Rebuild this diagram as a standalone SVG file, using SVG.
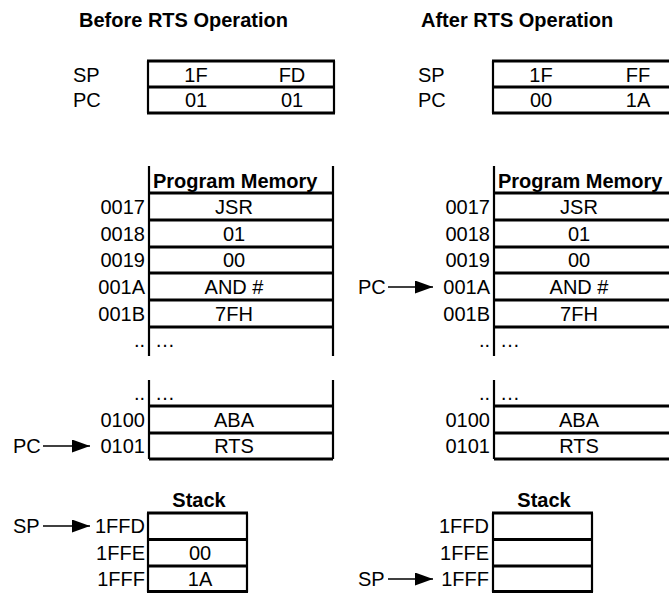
<svg xmlns="http://www.w3.org/2000/svg" width="669" height="593" viewBox="0 0 669 593">
  <style>
    text { font-family: "Liberation Sans", Arial, sans-serif; font-size: 20px; fill: #000; }
    .title { font-weight: bold; }
    .hdr { font-weight: bold; }
    .mid { text-anchor: middle; }
    .end { text-anchor: end; }
    .h { stroke: #000; stroke-width: 3; fill: none; }
    .v { stroke: #000; stroke-width: 2.2; fill: none; }
    .arrow { stroke: #000; stroke-width: 1.5; fill: none; }
  </style>
  <defs>
    <marker id="head" viewBox="0 0 18 13" refX="18" refY="6.5" markerWidth="18" markerHeight="13" markerUnits="userSpaceOnUse" orient="auto">
      <path d="M0,0 L18,6.5 L0,13 Z" fill="#000"/>
    </marker>
  </defs>

  <rect width="669" height="593" fill="#fff"/>

  <!-- Before RTS -->
  <g id="before">
    <text class="title" x="79" y="27">Before RTS Operation</text>

    <g id="before-registers">
      <text x="73" y="82">SP</text>
      <text x="73" y="107">PC</text>
      <line class="h" x1="147" y1="61" x2="335" y2="61"/>
      <line class="h" x1="147" y1="87" x2="335" y2="87"/>
      <line class="h" x1="147" y1="113" x2="335" y2="113"/>
      <line class="v" x1="148" y1="61" x2="148" y2="113"/>
      <line class="v" x1="334" y1="61" x2="334" y2="113"/>
      <text class="mid" x="196" y="82">1F</text>
      <text class="mid" x="292" y="82">FD</text>
      <text class="mid" x="196" y="107">01</text>
      <text class="mid" x="292" y="107">01</text>
    </g>

    <g id="before-memory">
      <line class="v" x1="149" y1="166" x2="149" y2="356"/>
      <line class="v" x1="333" y1="166" x2="333" y2="356"/>
      <text class="hdr" x="153" y="188">Program Memory</text>
      <line class="h" x1="149" y1="193" x2="333" y2="193"/>
      <line class="h" x1="149" y1="220" x2="333" y2="220"/>
      <line class="h" x1="149" y1="247" x2="333" y2="247"/>
      <line class="h" x1="149" y1="273" x2="333" y2="273"/>
      <line class="h" x1="149" y1="300" x2="333" y2="300"/>
      <line class="h" x1="149" y1="327" x2="333" y2="327"/>
      <text class="end" x="145" y="214">0017</text>
      <text class="end" x="145" y="241">0018</text>
      <text class="end" x="145" y="267">0019</text>
      <text class="end" x="145" y="294">001A</text>
      <text class="end" x="145" y="321">001B</text>
      <text class="end" x="145" y="347">..</text>
      <text x="155" y="347">…</text>
      <text class="mid" x="234" y="214">JSR</text>
      <text class="mid" x="234" y="241">01</text>
      <text class="mid" x="234" y="267">00</text>
      <text class="mid" x="234" y="294">AND #</text>
      <text class="mid" x="234" y="321">7FH</text>

      <line class="v" x1="149" y1="380" x2="149" y2="459"/>
      <line class="v" x1="333" y1="380" x2="333" y2="459"/>
      <line class="h" x1="149" y1="406" x2="333" y2="406"/>
      <line class="h" x1="149" y1="433" x2="333" y2="433"/>
      <line class="h" x1="149" y1="459" x2="333" y2="459"/>
      <text class="end" x="145" y="400">..</text>
      <text x="155" y="400">…</text>
      <text class="end" x="145" y="427">0100</text>
      <text class="end" x="145" y="453">0101</text>
      <text class="mid" x="234" y="427">ABA</text>
      <text class="mid" x="234" y="453">RTS</text>
    </g>

    <g id="before-stack">
      <text class="hdr mid" x="199" y="507">Stack</text>
      <line class="h" x1="147" y1="513" x2="248" y2="513"/>
      <line class="h" x1="147" y1="539.5" x2="248" y2="539.5"/>
      <line class="h" x1="147" y1="566" x2="248" y2="566"/>
      <line class="h" x1="147" y1="591.5" x2="248" y2="591.5"/>
      <line class="v" x1="148" y1="513" x2="148" y2="592"/>
      <line class="v" x1="247" y1="513" x2="247" y2="592"/>
      <text class="end" x="145" y="533">1FFD</text>
      <text class="end" x="145" y="560">1FFE</text>
      <text class="end" x="145" y="586">1FFF</text>
      <text class="mid" x="200" y="560">00</text>
      <text class="mid" x="200" y="586">1A</text>
    </g>

    <g id="before-pc-label"><text x="13" y="453">PC</text></g>
    <g id="before-sp-label"><text x="13" y="533">SP</text></g>
  </g>

  <!-- After RTS -->
  <g id="after">
    <text class="title" x="421" y="27">After RTS Operation</text>

    <g id="after-registers">
      <text x="418" y="82">SP</text>
      <text x="418" y="107">PC</text>
      <line class="h" x1="492" y1="61" x2="680" y2="61"/>
      <line class="h" x1="492" y1="87" x2="680" y2="87"/>
      <line class="h" x1="492" y1="113" x2="680" y2="113"/>
      <line class="v" x1="493" y1="61" x2="493" y2="113"/>
      <text class="mid" x="541" y="82">1F</text>
      <text class="mid" x="638" y="82">FF</text>
      <text class="mid" x="541" y="107">00</text>
      <text class="mid" x="638" y="107">1A</text>
    </g>

    <g id="after-memory">
      <line class="v" x1="494" y1="166" x2="494" y2="356"/>
      <text class="hdr" x="498" y="188">Program Memory</text>
      <line class="h" x1="494" y1="193" x2="680" y2="193"/>
      <line class="h" x1="494" y1="220" x2="680" y2="220"/>
      <line class="h" x1="494" y1="247" x2="680" y2="247"/>
      <line class="h" x1="494" y1="273" x2="680" y2="273"/>
      <line class="h" x1="494" y1="300" x2="680" y2="300"/>
      <line class="h" x1="494" y1="327" x2="680" y2="327"/>
      <text class="end" x="490" y="214">0017</text>
      <text class="end" x="490" y="241">0018</text>
      <text class="end" x="490" y="267">0019</text>
      <text class="end" x="490" y="294">001A</text>
      <text class="end" x="490" y="321">001B</text>
      <text class="end" x="490" y="347">..</text>
      <text x="500" y="347">…</text>
      <text class="mid" x="579" y="214">JSR</text>
      <text class="mid" x="579" y="241">01</text>
      <text class="mid" x="579" y="267">00</text>
      <text class="mid" x="579" y="294">AND #</text>
      <text class="mid" x="579" y="321">7FH</text>

      <line class="v" x1="494" y1="380" x2="494" y2="459"/>
      <line class="h" x1="494" y1="406" x2="680" y2="406"/>
      <line class="h" x1="494" y1="433" x2="680" y2="433"/>
      <line class="h" x1="494" y1="459" x2="680" y2="459"/>
      <text class="end" x="490" y="400">..</text>
      <text x="500" y="400">…</text>
      <text class="end" x="490" y="427">0100</text>
      <text class="end" x="490" y="453">0101</text>
      <text class="mid" x="579" y="427">ABA</text>
      <text class="mid" x="579" y="453">RTS</text>
    </g>

    <g id="after-stack">
      <text class="hdr mid" x="544" y="507">Stack</text>
      <line class="h" x1="492" y1="513" x2="593" y2="513"/>
      <line class="h" x1="492" y1="539.5" x2="593" y2="539.5"/>
      <line class="h" x1="492" y1="566" x2="593" y2="566"/>
      <line class="h" x1="492" y1="591.5" x2="593" y2="591.5"/>
      <line class="v" x1="493" y1="513" x2="493" y2="592"/>
      <line class="v" x1="592" y1="513" x2="592" y2="592"/>
      <text class="end" x="489" y="533">1FFD</text>
      <text class="end" x="489" y="560">1FFE</text>
      <text class="end" x="489" y="586">1FFF</text>
    </g>

    <g id="after-pc-label"><text x="358" y="294">PC</text></g>
    <g id="after-sp-label"><text x="358" y="586">SP</text></g>
  </g>

  <!-- pointer arrows -->
  <g id="connectors">
    <line class="arrow" x1="43" y1="446" x2="90" y2="446" marker-end="url(#head)"/>
    <line class="arrow" x1="43" y1="526" x2="90" y2="526" marker-end="url(#head)"/>
    <line class="arrow" x1="388" y1="287" x2="433" y2="287" marker-end="url(#head)"/>
    <line class="arrow" x1="388" y1="579" x2="433" y2="579" marker-end="url(#head)"/>
  </g>
</svg>
